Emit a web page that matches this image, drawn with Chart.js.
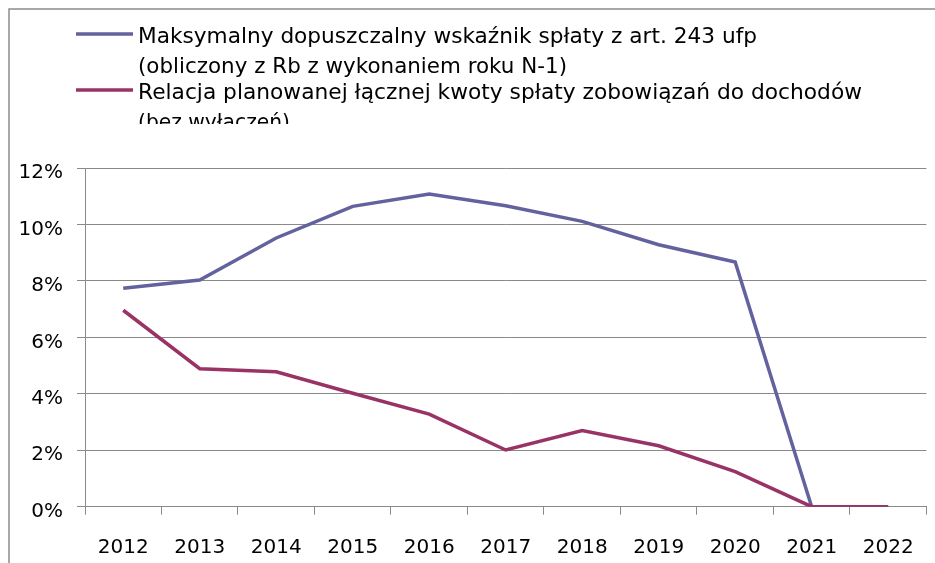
<!DOCTYPE html>
<html>
<head>
<meta charset="utf-8">
<script src="https://cdn.jsdelivr.net/npm/chart.js@4"></script>
<style>
html,body{margin:0;padding:0;background:#fff;overflow:hidden;}
#wrap{position:relative;width:935px;height:563px;overflow:hidden;}
canvas{display:block;}
</style>
</head>
<body>
<div id="wrap"><canvas id="c" width="935" height="563"></canvas></div>
<script>
const years = ['2012','2013','2014','2015','2016','2017','2018','2019','2020','2021','2022'];
const maxIndicator = [7.74, 8.03, 9.52, 10.64, 11.08, 10.66, 10.11, 9.28, 8.67, 0, 0];
const plannedRatio = [6.96, 4.89, 4.78, 4.02, 3.28, 2.01, 2.70, 2.16, 1.24, 0, 0];
const seriesLabels = [
  ['Maksymalny dopuszczalny wskaźnik spłaty z art. 243 ufp', '(obliczony z Rb z wykonaniem roku N-1)'],
  ['Relacja planowanej łącznej kwoty spłaty zobowiązań do dochodów', '(bez wyłączeń)']
];
const yTicks = [0, 2, 4, 6, 8, 10, 12];

const colors = ['#62629f', '#993366'];
const gridColor = '#898989';

const legendPlugin = {
  id: 'customLegend',
  afterDraw(chart) {
    const ctx = chart.ctx;
    ctx.save();
    // outer frame (cropped)
    ctx.strokeStyle = '#8c8c8c';
    ctx.lineWidth = 1.5;
    ctx.beginPath();
    ctx.moveTo(9, 563); ctx.lineTo(9, 9); ctx.lineTo(935, 9);
    ctx.stroke();
    // legend clipping region
    ctx.beginPath();
    ctx.rect(10, 10, 925, 114);
    ctx.clip();
    const lineY = [34, 90];
    const baselines = [[43, 73], [99, 129]];
    const widths = [[619, 429], [724, 152]];
    ctx.font = '22px "DejaVu Sans"';
    ctx.textBaseline = 'alphabetic';
    ctx.textAlign = 'left';
    chart.data.datasets.forEach((ds, i) => {
      ctx.strokeStyle = ds.borderColor;
      ctx.lineWidth = 3.5;
      ctx.beginPath();
      ctx.moveTo(76, lineY[i]);
      ctx.lineTo(133, lineY[i]);
      ctx.stroke();
      ctx.fillStyle = '#000';
      seriesLabels[i].forEach((t, j) => {
        ctx.fillText(t, 138, baselines[i][j], widths[i][j]);
      });
    });
    ctx.restore();
  }
};

new Chart(document.getElementById('c'), {
  type: 'line',
  data: {
    labels: years,
    datasets: [
      { label: seriesLabels[0].join(' '), data: maxIndicator, borderColor: colors[0], backgroundColor: colors[0], borderWidth: 3.5, pointRadius: 0, tension: 0, order: 1 },
      { label: seriesLabels[1].join(' '), data: plannedRatio, borderColor: colors[1], backgroundColor: colors[1], borderWidth: 3.5, pointRadius: 0, tension: 0, order: 0 }
    ]
  },
  options: {
    responsive: false,
    animation: false,
    devicePixelRatio: 1,
    layout: { padding: { top: 168, right: 8.5, left: 0, bottom: 0 } },
    plugins: { legend: { display: false }, tooltip: { enabled: false } },
    scales: {
      x: {
        offset: true,
        grid: { offset: true, drawOnChartArea: false, drawTicks: true, tickLength: 8, color: gridColor, lineWidth: 1 },
        border: { color: gridColor, width: 1 },
        ticks: { color: '#000', font: { family: 'DejaVu Sans', size: 20 }, padding: 21, maxRotation: 0, autoSkip: false },
        afterFit(scale) { scale.height = 56.3; }
      },
      y: {
        min: 0, max: 12,
        afterBuildTicks(scale) { scale.ticks = yTicks.map(v => ({ value: v })); },
        grid: { color: gridColor, lineWidth: 1, tickLength: 8 },
        border: { color: gridColor, width: 1 },
        ticks: { color: '#000', font: { family: 'DejaVu Sans', size: 20 }, padding: 14, labelOffset: 5, callback: v => v + '%' },
        afterFit(scale) { scale.width = 85; }
      }
    }
  },
  plugins: [legendPlugin]
});
</script>
</body>
</html>
